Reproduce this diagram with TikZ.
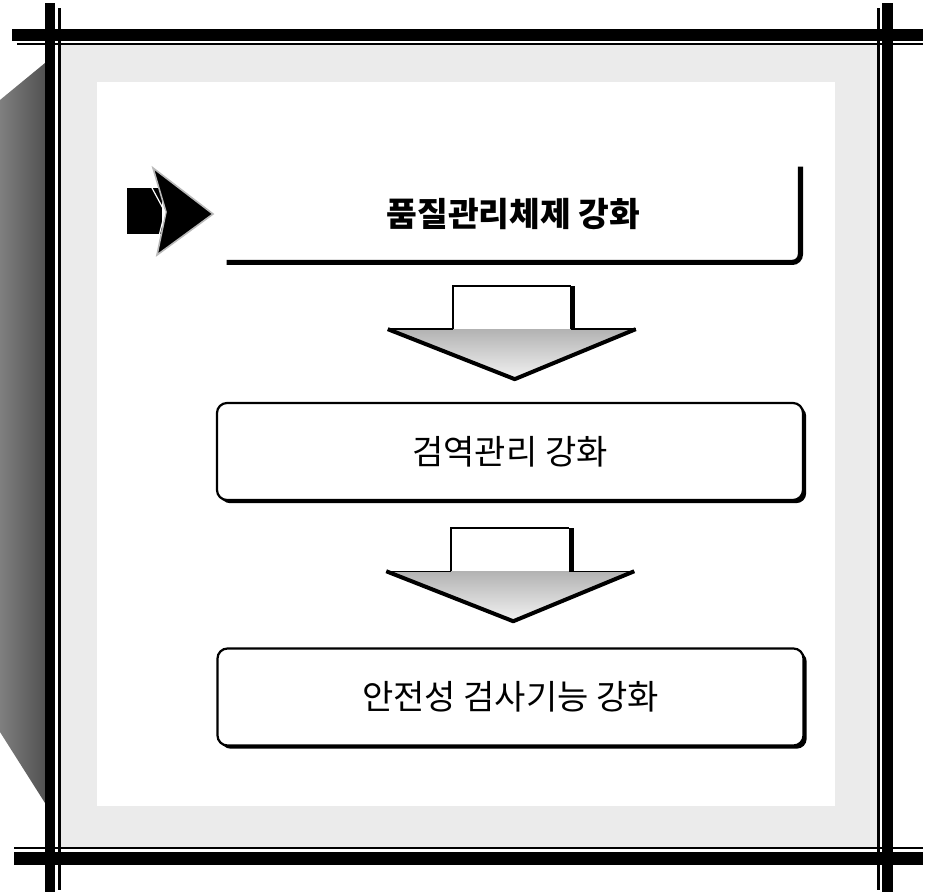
\documentclass[tikz,border=0pt]{standalone}
\usepackage{fontspec}
\newfontfamily\krfont{Noto Sans CJK KR}
\usetikzlibrary{calc,shadows}
\tikzset{
  bar/.style={fill=black},
  band/.style={fill=gray!16},
  stage/.style={draw=black, line width=1.1pt, fill=white, rounded corners=5pt,
    minimum width=293pt, minimum height=48.5pt, inner sep=0pt,
    font=\krfont\fontsize{17}{20}\selectfont,
    drop shadow={opacity=1, fill=black, shadow xshift=1.6pt, shadow yshift=-1.6pt}},
  lead/.style={minimum width=286.5pt, minimum height=47.5pt, inner sep=0pt,
    font=\krfont\bfseries\fontsize{16.7}{20}\selectfont},
  rim/.style={line width=2.6pt, rounded corners=4pt},
  blockdown/.pic={
    % head
    \fill[top color=gray!60, bottom color=gray!10] (-124,-3) -- (124,-3) -- (3,47) -- cycle;
    \draw[line width=2pt, line join=round] (-124,-3) -- (3,47) -- (124,-3);
    \draw[line width=0.7pt] (-124,-3) -- (-59,-3) (59,-3) -- (124,-3);
    % stem
    \fill[white] (-59,-46) rectangle (59,-3);
    \draw[line width=0.9pt] (-59,-3) -- (-59,-46) -- (59,-46);
    \draw[line width=2.4pt] (61,-46) -- (61,-3);
  },
}

\begin{document}
\begin{tikzpicture}[x=0.5pt, y=-0.5pt]
  \useasboundingbox (0,0) rectangle (933,893);
  % page shadow on the left
  \shade[left color=black!50, right color=black!68] (45,63) -- (0,100) -- (0,732) -- (45,803) -- cycle;
  % panel
  \fill[band] (60,45) rectangle (878,847);
  \fill[white] (97,82) rectangle (835,806);
  % frame
  \fill[bar] (45,3) rectangle (55,892);
  \fill[bar] (57.5,8) rectangle (60.5,890);
  \fill[bar] (12,29) rectangle (923,41);
  \fill[bar] (17,43) rectangle (923,45.5);
  \fill[bar] (877,8) rectangle (880,890);
  \fill[bar] (882,3) rectangle (893,892);
  \fill[bar] (14,846.5) rectangle (923,849);
  \fill[bar] (14,852) rectangle (923,865);

  % pointer
  \fill[black] (127,188) rectangle (162,234);
  \fill[black, draw=gray!55, line width=0.8pt] (153,168) -- (213,214) -- (157,255) -- (166,212) -- cycle;
  \draw[white, line width=0.6pt] (152,188) -- (165,212) -- (158,240);

  \node[lead] (q1) at (513.5,214.5) {품질관리체제 강화};
  \draw[rim] (q1.north east) -- (q1.south east) -- (q1.south west);
  \node[stage] (q2) at (510,451.5) {검역관리 강화};
  \node[stage] (q3) at (510.5,697) {안전성 검사기능 강화};

  \pic at ($(q1.south)!0.5!(q2.north)$) {blockdown};
  \pic at ($(q2.south)!0.5!(q3.north)$) {blockdown};
\end{tikzpicture}
\end{document}
